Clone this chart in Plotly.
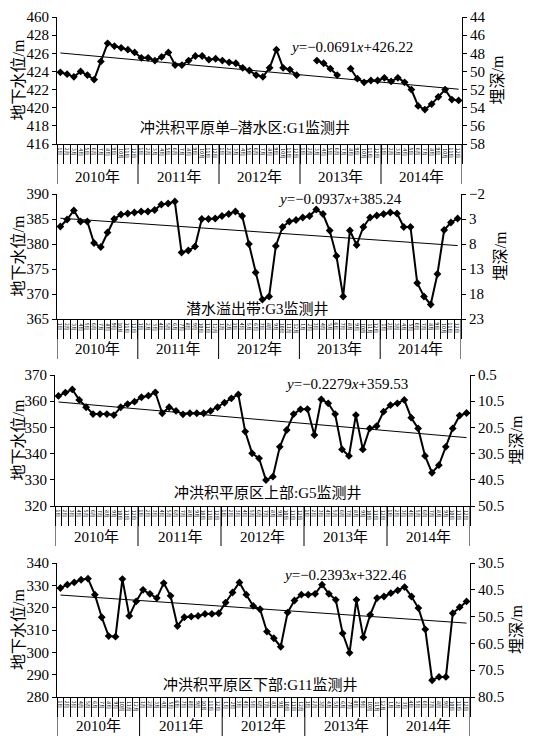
import numpy as np
import plotly.graph_objects as go

# ---------------- data ----------------
years = ["2010年", "2011年", "2012年", "2013年", "2014年"]
month_labels = ["1月", "2月", "3月", "4月", "5月", "6月", "7月", "8月", "9月", "10月", "11月", "12月"]

# groundwater level (m), monthly Jan-2010 .. Dec-2014; None = missing
g1 = [423.9, 423.7, 423.4, 424.0, 423.6, 423.1, 425.1, 427.1, 426.8, 426.6, 426.4, 426.1,
      425.5, 425.5, 425.2, 425.6, 426.1, 424.7, 424.7, 425.2, 425.7, 425.7, 425.3, 425.4,
      425.2, 425.0, 424.9, 424.4, 424.1, 423.6, 423.4, 424.4, 426.4, 424.4, 424.2, 423.6,
      None, None, 425.2, 424.9, 424.3, 423.6, None, 424.3, 423.2, 422.8, 423.0, 423.0,
      423.3, 422.9, 423.3, 422.8, 422.0, 420.2, 419.8, 420.4, 421.2, 422.0, 420.9, 420.8]
g3 = [383.5, 384.9, 386.7, 384.5, 384.5, 380.2, 379.4, 382.3, 385.0, 385.9, 386.1, 386.3,
      386.5, 386.5, 386.8, 387.9, 388.1, 388.5, 378.3, 378.7, 379.5, 385.0, 385.0, 385.1,
      385.6, 386.0, 386.5, 385.6, 380.0, 374.3, 368.9, 369.5, 379.6, 383.4, 384.5, 384.8,
      385.3, 385.6, 386.9, 386.0, 382.7, 377.6, 369.5, 382.7, 379.8, 383.4, 385.3, 385.7,
      386.0, 386.3, 386.1, 383.4, 383.4, 372.2, 369.5, 367.9, 374.0, 382.8, 384.3, 385.1]
g5 = [362.0, 363.3, 364.5, 360.5, 357.7, 355.1, 355.1, 355.1, 354.7, 357.7, 358.9, 359.8,
      361.5, 362.1, 363.4, 355.4, 357.7, 356.3, 355.0, 355.4, 355.4, 355.4, 356.3, 357.7,
      359.4, 361.1, 362.6, 348.4, 340.1, 338.2, 329.9, 331.2, 342.6, 349.0, 355.1, 356.9,
      357.0, 347.1, 360.7, 359.2, 355.1, 341.6, 339.1, 354.7, 341.6, 349.6, 350.5, 356.0,
      358.5, 359.2, 360.5, 353.7, 349.6, 339.1, 332.7, 335.6, 342.6, 349.6, 354.5, 355.5]
g11 = [328.8, 330.3, 331.3, 332.5, 333.0, 325.8, 315.7, 307.3, 307.0, 332.8, 316.3, 322.8,
       328.0, 326.2, 324.3, 331.0, 325.3, 311.8, 315.7, 316.0, 316.3, 317.2, 317.2, 317.5,
       322.3, 326.8, 331.3, 325.8, 320.8, 319.3, 309.3, 306.3, 302.5, 317.8, 323.2, 325.8,
       325.8, 326.2, 330.3, 326.2, 323.5, 308.5, 299.8, 323.5, 306.7, 316.8, 324.3, 325.0,
       326.5, 327.7, 329.2, 325.0, 319.8, 310.3, 287.5, 289.0, 289.0, 317.5, 320.2, 322.8]

series = [g1, g3, g5, g11]
panel_titles = ["冲洪积平原单–潜水区:G1监测井", "潜水溢出带:G3监测井",
                "冲洪积平原区上部:G5监测井", "冲洪积平原区下部:G11监测井"]
# trend equations as printed on the chart
slopes = [-0.0691, -0.0937, -0.2279, -0.2393]
intercepts = [426.22, 385.24, 359.53, 322.46]

left_tickvals = [[416, 418, 420, 422, 424, 426, 428, 430],
                 [365, 370, 375, 380, 385, 390],
                 [320, 330, 340, 350, 360, 370],
                 [280, 290, 300, 310, 320, 330, 340]]
left_ticktext = [["416", "418", "420", "422", "424", "426", "428", "460"],
                 ["365", "370", "375", "380", "385", "390"],
                 ["320", "330", "340", "350", "360", "370"],
                 ["280", "290", "300", "310", "320", "330", "340"]]
right_tickvals = [[44, 46, 48, 50, 52, 54, 56, 58],
                  [-2, 3, 8, 13, 18, 23],
                  [0.5, 10.5, 20.5, 30.5, 40.5, 50.5],
                  [30.5, 40.5, 50.5, 60.5, 70.5, 80.5]]

# ---------------- layout geometry (window pixels) ----------------
OFF = 8                      # page body margin
W, H = 544 - OFF, 736 - OFF  # figure size so the page does not overflow
boxes = [  # x0, x1, ytop, ybottom (window pixels)
    (57, 462, 17, 144),
    (57, 461, 194, 319),
    (55, 470, 375, 506),
    (57, 470, 563, 697),
]
eq_pos = [(351, 47), (340, 199), (346, 384), (345, 575)]
sub_pos = [(245, 128), (257, 309), (268, 493), (260, 685)]
right_title_x = [497, 500, 516, 516]
year_shift = [-33, -30, -31, -29]


def px(x):
    return (x - OFF) / W


def py(y):
    return 1 - (y - OFF) / H


FONT = "Liberation Serif, 'Noto Sans CJK SC', serif"
CJK = "'Noto Sans CJK SC', serif"

fig = go.Figure()
idx = list(range(60))
annotations = []
shapes = []
layout = dict(
    width=W, height=H, margin=dict(l=0, r=0, t=0, b=0, autoexpand=False),
    paper_bgcolor="white", plot_bgcolor="white", showlegend=False,
    font=dict(family=FONT, size=15, color="black"),
)

for k in range(4):
    x0, x1, yt, yb = boxes[k]
    xa = "x" if k == 0 else f"x{k+1}"
    ya = f"y{2*k+1}" if k > 0 else "y"
    yr_name = f"y{2*k+2}"
    xkey = "xaxis" if k == 0 else f"xaxis{k+1}"
    ykey = "yaxis" if k == 0 else f"yaxis{2*k+1}"
    y2key = f"yaxis{2*k+2}"
    xdom = [px(x0), px(x1)]
    ydom = [py(yb), py(yt)]
    hpx = yb - yt

    vals = series[k]
    fig.add_trace(go.Scatter(
        x=idx, y=vals, xaxis=xa, yaxis=ya, mode="lines+markers",
        line=dict(color="black", width=2),
        marker=dict(symbol="diamond", size=6, color="black"),
        connectgaps=False, hoverinfo="skip"))
    # linear trend line fitted to the plotted series (as the spreadsheet does)
    xs = np.array([i + 1 for i, v in enumerate(vals) if v is not None], dtype=float)
    ys = np.array([v for v in vals if v is not None], dtype=float)
    m, c = np.polyfit(xs, ys, 1)
    tx = [idx[0], idx[-1]]
    ty = [m * (i + 1) + c for i in tx]
    fig.add_trace(go.Scatter(
        x=tx, y=ty, xaxis=xa, yaxis=ya, mode="lines",
        line=dict(color="black", width=1), hoverinfo="skip"))
    # empty trace so the right-hand (burial depth) axis is drawn
    fig.add_trace(go.Scatter(x=[], y=[], xaxis=xa, yaxis=yr_name, hoverinfo="skip"))

    layout[xkey] = dict(
        domain=xdom, anchor=ya, range=[-0.5, 59.5],
        showline=True, linecolor="black", linewidth=1.2,
        showgrid=False, zeroline=False, showticklabels=False,
        tickmode="array", tickvals=[i + 0.5 for i in range(-1, 60)],
        ticks="outside", ticklen=19, tickwidth=0.8, tickcolor="black",
    )
    layout[ykey] = dict(
        domain=ydom, anchor=xa, range=[left_tickvals[k][0], left_tickvals[k][-1]],
        tickmode="array", tickvals=left_tickvals[k], ticktext=left_ticktext[k],
        showline=True, linecolor="black", linewidth=1.2, ticks="outside", ticklen=4,
        tickcolor="black", showgrid=False, zeroline=False,
        tickfont=dict(family=FONT, size=15),
    )
    rv = right_tickvals[k]
    layout[y2key] = dict(
        domain=ydom, anchor=xa, overlaying=ya, side="right",
        range=[rv[-1], rv[0]], tickmode="array", tickvals=rv,
        showline=True, linecolor="black", linewidth=1.2, ticks="outside", ticklen=4,
        tickcolor="black", showgrid=False, zeroline=False,
        tickfont=dict(family=FONT, size=15),
    )

    # year separators
    for b in [-0.5, 11.5, 23.5, 35.5, 47.5, 59.5]:
        shapes.append(dict(type="line", xref=xa, yref=f"{ya} domain",
                           x0=b, x1=b, y0=0, y1=-40 / hpx,
                           line=dict(color="black", width=1)))

    # month labels (tiny, vertical) and year labels
    for i in idx:
        annotations.append(dict(
            x=i, y=0, xref=xa, yref=f"{ya} domain", text=month_labels[i % 12],
            showarrow=False, textangle=90, yanchor="top", xanchor="center", yshift=-2,
            font=dict(family=CJK, size=5, color="black")))
    for j, yr in enumerate(years):
        annotations.append(dict(
            x=j * 12 + 5.5, y=0, xref=xa, yref=f"{ya} domain", text=yr,
            showarrow=False, yanchor="middle", xanchor="center", yshift=year_shift[k],
            font=dict(family=FONT, size=15, color="black")))

    # equation
    ex, ey = eq_pos[k]
    s = slopes[k]
    eq = f"<i>y</i>=−{abs(s):.4f}<i>x</i>+{intercepts[k]:.2f}"
    annotations.append(dict(x=px(ex), y=py(ey), xref="paper", yref="paper",
                            text=eq, showarrow=False, xanchor="center", yanchor="middle",
                            font=dict(family=FONT, size=15, color="black")))
    # panel subtitle
    sx, sy = sub_pos[k]
    annotations.append(dict(x=px(sx), y=py(sy), xref="paper", yref="paper",
                            text=panel_titles[k], showarrow=False, xanchor="center",
                            yanchor="middle", font=dict(family=FONT, size=15, color="black")))
    # axis titles
    ymid = py((yt + yb) / 2)
    annotations.append(dict(x=px(18), y=ymid, xref="paper", yref="paper",
                            text="地下水位/m", textangle=-90, showarrow=False,
                            xanchor="center", yanchor="middle",
                            font=dict(family=FONT, size=16, color="black")))
    annotations.append(dict(x=px(right_title_x[k]), y=ymid, xref="paper", yref="paper",
                            text="埋深/m", textangle=-90, showarrow=False,
                            xanchor="center", yanchor="middle",
                            font=dict(family=FONT, size=16, color="black")))

layout["annotations"] = annotations
layout["shapes"] = shapes
fig.update_layout(**layout)
fig.write_html("out.html")
